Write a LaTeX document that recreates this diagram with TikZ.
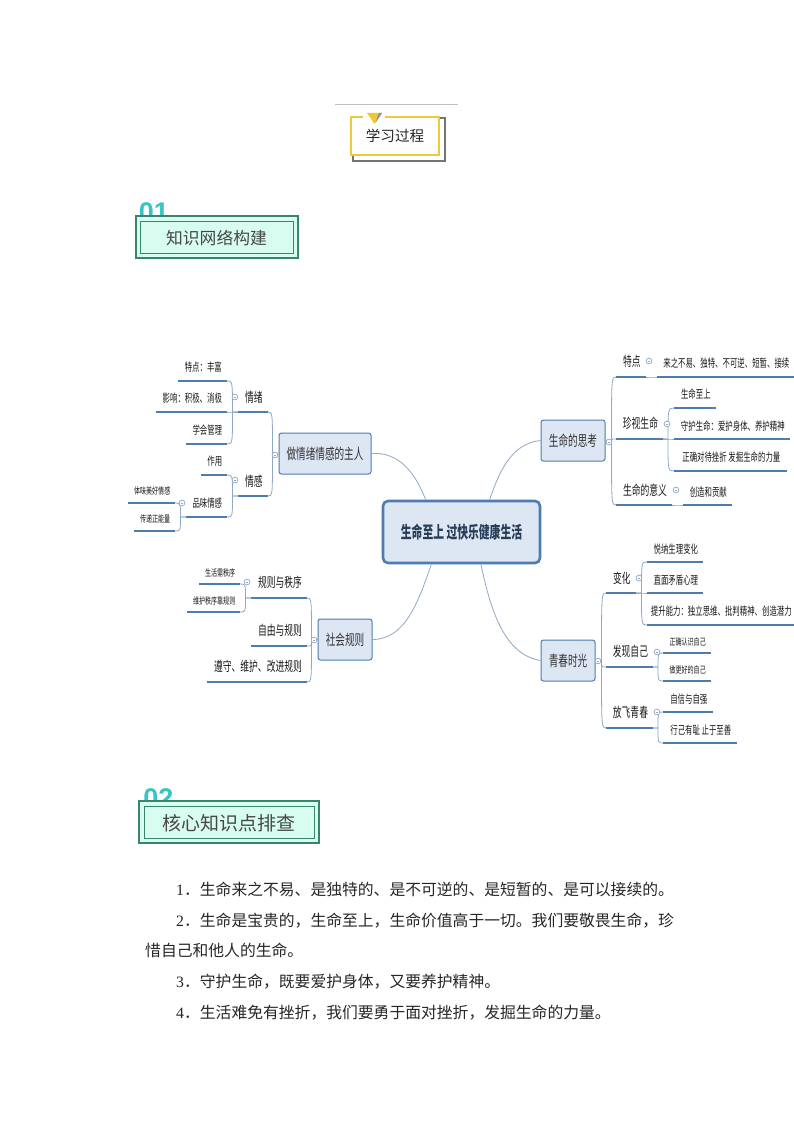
\documentclass[tikz,border=0pt]{standalone}
\usepackage{fontspec}
\setmainfont{Liberation Serif}
\newfontfamily\cjk{Noto Sans CJK SC}
\newfontfamily\cjkn[FakeStretch=.65]{Noto Sans CJK SC}
\newfontfamily\latin{Liberation Sans}
\definecolor{mapblue}{HTML}{4F7CB0}
\definecolor{maplink}{HTML}{8FA8C6}
\definecolor{boxfill}{HTML}{DDE6F3}
\definecolor{gold}{HTML}{EEC937}
\definecolor{grn}{HTML}{37866B}
\definecolor{mint}{HTML}{D6FDEF}
\definecolor{teal}{HTML}{38C4C4}
\newcommand\Sa{\fontsize{9.3}{11}\cjkn}
\newcommand\Sb{\fontsize{11.4}{13}\cjkn}
\newcommand\Sc{\fontsize{13.5}{15}\cjkn}
\newcommand\Sd{\fontsize{14.8}{16}\cjkn}
\tikzset{
  topic/.style={inner sep=0pt,outer sep=0pt,text=black!90,anchor=south west},
  under/.style={draw=mapblue,line width=2pt},
  link/.style={draw=maplink,line width=.8pt},
  hubbox/.style={draw=mapblue,line width=1pt,fill=boxfill,rounded corners=2.5pt,inner sep=0pt,text=black!80,font=\Sd},
  centre/.style={draw=mapblue,line width=2.6pt,fill=boxfill,rounded corners=5pt,inner sep=0pt,text=mapblue!50!black,font={\fontsize{16.6}{18}\cjkn\bfseries}},
  collapse/.style={draw=maplink,line width=.7pt},
  headbox/.style={draw=grn,line width=1.6pt,fill=mint,inner sep=0pt},
  headtext/.style={text=black!72,inner sep=0pt},
  para/.style={anchor=west,inner sep=0pt,text=black!85,font={\fontsize{15.8}{18}\cjk}}
}
\newcommand\topic[7]{%
  \node[topic,minimum width={(#3-#2)*1pt},minimum height={2*#5*1pt}] (#1) at (#2,#4) {#6 #7};
  \draw[under] (#1.south west) -- (#1.south east);}
\newcommand\kidL[3]{\path (#1) ++(-#3,0) coordinate (spine);
  \draw[link] (#1) -- (spine) .. controls (spine |- #2.south east) and (spine |- #2.south east) .. (#2.south east);}
\newcommand\kidR[3]{\path (#1) ++(#3,0) coordinate (spine);
  \draw[link] (#1) -- (spine) .. controls (spine |- #2.south west) and (spine |- #2.south west) .. (#2.south west);}
\newcommand\coll[2]{\draw[collapse,fill=white] (#1,#2) circle (2.9pt); \draw[collapse] (#1-1.4,#2) -- (#1+1.4,#2);}
\begin{document}
\begin{tikzpicture}[x=1pt,y=-1pt]
\useasboundingbox[fill=white] (0,0) rectangle (794,1123);
% title
\draw[black!25,line width=.8pt] (335,104) -- (458,104);
\draw[black!55,line width=1.6pt] (439,118) -- (445,118) -- (445,161) -- (353,161) -- (353,155);
\node[draw=gold,line width=1.6pt,minimum width=88pt,minimum height=38pt,inner sep=0pt,font={\fontsize{14.6}{16}\cjk},text=black!85] (title) at (395,136) {学习过程};
\fill[white] (363,115) rectangle (385,119);
\fill[gold] (367,113) -- (382,113) -- (374.5,124) -- cycle;
\fill[black!45] (375.5,122.5) -- (382,113) -- (379,113) -- cycle;
% heading 1
\node[text=teal,inner sep=0pt,font={\fontsize{27}{27}\latin\bfseries}] (numa) at (154,212) {01};
\node[headbox,minimum width=162pt,minimum height=42pt] (heada) at (217,237) {};
\node[headbox,line width=.9pt,minimum width=153pt,minimum height=32pt] (headai) at (216.5,237) {};
\node[headtext,font={\fontsize{16.8}{18}\cjk}] (headat) at (216.5,238) {知识网络构建};
% centre and hubs
\node[centre,minimum width=157pt,minimum height=62pt] (central) at (461.5,532) {生命至上 过快乐健康生活};
\node[hubbox,minimum width=92pt,minimum height=41pt] (hqg) at (325,453.5) {做情绪情感的主人};
\node[hubbox,minimum width=64pt,minimum height=41pt] (hsm) at (573,440.5) {生命的思考};
\node[hubbox,minimum width=54pt,minimum height=41pt] (hgz) at (345,639.5) {社会规则};
\node[hubbox,minimum width=54pt,minimum height=41pt] (hqc) at (568,660.5) {青春时光};
\draw[link] (hqg.east) .. controls +(28,-2) and +(-10,-26) .. (central.138);
\draw[link] (hsm.west) .. controls +(-30,3) and +(9,-26) .. (central.49);
\draw[link] (hgz.east) .. controls +(33,0) and +(-13,37) .. (central.227);
\draw[link] (hqc.west) .. controls +(-36,-6) and +(10,47) .. (central.301);
% upper left
\topic{qx}{238}{268}{412}{15}{\Sc}{情绪}
\topic{qg}{238}{268}{496}{15}{\Sc}{情感}
\topic{qxa}{178}{227}{381}{14}{\Sb}{特点：丰富}
\topic{qxb}{156}{227}{412}{14}{\Sb}{影响：积极、消极}
\topic{qxc}{186}{227}{444}{14}{\Sb}{学会管理}
\topic{qga}{201}{227}{475}{14}{\Sb}{作用}
\topic{qgb}{186}{227}{517}{14}{\Sb}{品味情感}
\topic{qgc}{128}{175}{503}{12}{\Sa}{体味美好情感}
\topic{qgd}{134}{175}{531}{12}{\Sa}{传递正能量}
\kidL{hqg.west}{qx}{6}\kidL{hqg.west}{qg}{6}
\kidL{qx.south west}{qxa}{5.5}\kidL{qx.south west}{qxb}{5.5}\kidL{qx.south west}{qxc}{5.5}
\kidL{qg.south west}{qga}{5.5}\kidL{qg.south west}{qgb}{5.5}
\kidL{qgb.south west}{qgc}{5.5}\kidL{qgb.south west}{qgd}{5.5}
% upper right
\topic{sa}{616}{646}{377}{16}{\Sc}{特点}
\topic{sb}{616}{663}{439}{16}{\Sc}{珍视生命}
\topic{sc}{616}{672}{505}{15}{\Sc}{生命的意义}
\topic{saa}{657}{794}{377}{14}{\Sb}{来之不易、独特、不可逆、短暂、接续}
\topic{sba}{674}{716}{408}{14}{\Sb}{生命至上}
\topic{sbb}{674}{790}{439}{13}{\Sb}{守护生命：爱护身体、养护精神}
\topic{sbc}{674}{787}{471}{14}{\Sb}{正确对待挫折 发掘生命的力量}
\topic{sca}{683}{732}{505}{13}{\Sb}{创造和贡献}
\kidR{hsm.east}{sa}{6}\kidR{hsm.east}{sb}{6}\kidR{hsm.east}{sc}{6}
\kidR{sa.south east}{saa}{5}
\kidR{sb.south east}{sba}{5}\kidR{sb.south east}{sbb}{5}\kidR{sb.south east}{sbc}{5}
\kidR{sc.south east}{sca}{5}
% lower left
\topic{ga}{251}{307}{598}{16}{\Sc}{规则与秩序}
\topic{gb}{251}{307}{646}{16}{\Sc}{自由与规则}
\topic{gc}{207}{307}{682}{16}{\Sc}{遵守、维护、改进规则}
\topic{gaa}{199}{240}{584}{11}{\Sa}{生活需秩序}
\topic{gab}{187}{240}{612}{11}{\Sa}{维护秩序靠规则}
\kidL{hgz.west}{ga}{6}\kidL{hgz.west}{gb}{6}\kidL{hgz.west}{gc}{6}
\kidL{ga.south west}{gaa}{5.5}\kidL{ga.south west}{gab}{5.5}
% lower right
\topic{qa}{606}{636}{593}{15}{\Sc}{变化}
\topic{qb}{606}{653}{667}{16}{\Sc}{发现自己}
\topic{qc}{606}{653}{728}{16}{\Sc}{放飞青春}
\topic{qaa}{647}{703}{562}{13}{\Sb}{悦纳生理变化}
\topic{qab}{647}{703}{593}{13}{\Sb}{直面矛盾心理}
\topic{qac}{647}{794}{625}{14}{\Sb}{提升能力：独立思维、批判精神、创造潜力}
\topic{qba}{663}{711}{653}{11}{\Sa}{正确认识自己}
\topic{qbb}{663}{711}{681}{11}{\Sa}{做更好的自己}
\topic{qca}{663}{713}{712}{13}{\Sb}{自信与自强}
\topic{qcb}{663}{737}{743}{13}{\Sb}{行己有耻 止于至善}
\kidR{hqc.east}{qa}{6}\kidR{hqc.east}{qb}{6}\kidR{hqc.east}{qc}{6}
\kidR{qa.south east}{qaa}{5.5}\kidR{qa.south east}{qab}{5.5}\kidR{qa.south east}{qac}{5.5}
\kidR{qb.south east}{qba}{5}\kidR{qb.south east}{qbb}{5}
\kidR{qc.south east}{qca}{5}\kidR{qc.south east}{qcb}{5}
% collapse marks
\coll{235}{397}\coll{235}{480}\coll{182}{503}\coll{275}{455}
\coll{609}{442}\coll{649}{361}\coll{667}{424}\coll{676}{490}
\coll{598}{661}\coll{639}{578}\coll{657}{652}\coll{657}{712}
\coll{314}{640}\coll{247}{582}
% heading 2
\node[text=teal,inner sep=0pt,font={\fontsize{27}{27}\latin\bfseries}] (numb) at (158.5,798) {02};
\node[headbox,minimum width=180pt,minimum height=42pt] (headb) at (229,822) {};
\node[headbox,line width=.9pt,minimum width=170pt,minimum height=32pt] (headbi) at (229,822) {};
\node[headtext,font={\fontsize{19}{21}\cjk}] (headbt) at (229,823) {核心知识点排查};
% body
\node[para] (pa) at (176,889) {\rmfamily 1\cjk．生命来之不易、是独特的、是不可逆的、是短暂的、是可以接续的。};
\node[para] (pb) at (176,921) {\rmfamily 2\cjk．生命是宝贵的，生命至上，生命价值高于一切。我们要敬畏生命，珍};
\node[para] (pc) at (145,950) {惜自己和他人的生命。};
\node[para] (pd) at (176,982) {\rmfamily 3\cjk．守护生命，既要爱护身体，又要养护精神。};
\node[para] (pe) at (176,1013) {\rmfamily 4\cjk．生活难免有挫折，我们要勇于面对挫折，发掘生命的力量。};
\end{tikzpicture}
\end{document}
